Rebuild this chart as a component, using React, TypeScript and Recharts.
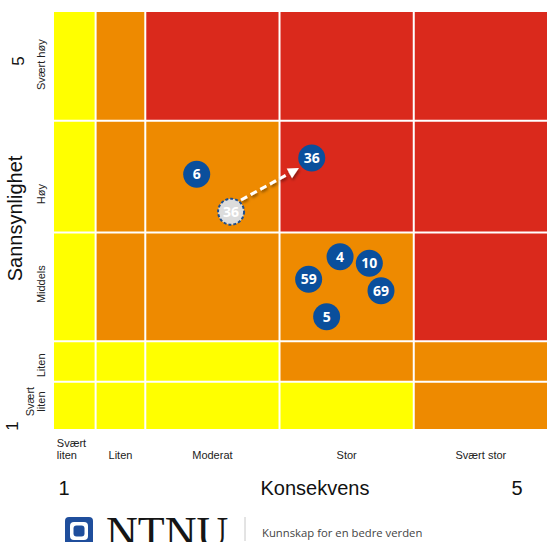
import { ScatterChart, Scatter, XAxis, YAxis, ReferenceArea, ReferenceLine } from 'recharts'

// cell edges along each axis (consequence / likelihood), in axis units
const colEdges = [0, 0.31, 0.68, 1.68, 2.68, 3.68]
const rowEdges = [0, 0.43, 0.8, 1.79, 2.81, 3.8]

// risk level per cell, rows bottom -> top, columns left -> right
const riskLevels = [
    ['low', 'low', 'low', 'low', 'mid'],
    ['low', 'low', 'low', 'mid', 'mid'],
    ['low', 'mid', 'mid', 'mid', 'high'],
    ['low', 'mid', 'mid', 'high', 'high'],
    ['low', 'mid', 'high', 'high', 'high'],
]
const levelColors: Record<string, string> = { low: '#FFFF00', mid: '#EE8A00', high: '#DA291C' }

const xLabels = ['Svært\nliten', 'Liten', 'Moderat', 'Stor', 'Svært stor']
const yLabels = ['Svært\nliten', 'Liten', 'Middels', 'Høy', 'Svært høy']
const yLabelPos = [0.25, 0.58, 1.32, 2.14, 3.32]

const risks = [
    { id: '6', x: 1.063, y: 2.321 },
    { id: '36', x: 1.92, y: 2.469 },
    { id: '4', x: 2.131, y: 1.57 },
    { id: '10', x: 2.349, y: 1.51 },
    { id: '59', x: 1.897, y: 1.364 },
    { id: '69', x: 2.436, y: 1.26 },
    { id: '5', x: 2.031, y: 1.023 },
]
const movedFrom = [{ id: '36', x: 1.319, y: 1.98 }]
const moveArrow = [{ x: 1.393, y: 2.087 }, { x: 1.825, y: 2.378 }]

const xTicks = colEdges.slice(0, -1).map((e, i) => (e + colEdges[i + 1]) / 2)

const FONT = '"Liberation Sans", Arial, sans-serif'
const BLUE = '#0A4F9C'

const cells = riskLevels.flatMap((row, r) =>
    row.map((lvl, c) => ({
        x1: colEdges[c], x2: colEdges[c + 1],
        y1: rowEdges[r], y2: rowEdges[r + 1],
        fill: levelColors[lvl],
    }))
)

const XTick = (props: any) => {
    const { x, y, index } = props
    const lines = xLabels[index].split('\n')
    const multi = lines.length > 1
    return (
        <g>
            {lines.map((l, i) => (
                <text key={i} x={multi ? x - 18 : x} y={y + 30 - (lines.length - 1 - i) * 12}
                    textAnchor={multi ? 'start' : 'middle'} fontSize={11} fill="#222" fontFamily={FONT}>
                    {l}
                </text>
            ))}
        </g>
    )
}

const YTick = (props: any) => {
    const { x, y, payload } = props
    const idx = yLabelPos.indexOf(payload.value)
    const lines = (yLabels[idx] ?? '').split('\n')
    return (
        <g>
            {lines.map((l, i) => {
                const bx = x - 9 - (lines.length - 1 - i) * 11
                return (
                    <text key={i} x={bx} y={y} transform={`rotate(-90 ${bx} ${y})`}
                        textAnchor="middle" fontSize={11} fill="#222" fontFamily={FONT}>
                        {l}
                    </text>
                )
            })}
        </g>
    )
}

const YTitle = (props: any) => {
    const vb = props.viewBox
    const cy = vb.y + vb.height / 2 - 2
    return (
        <g fill="#111" fontFamily={FONT}>
            <text x={22} y={cy} transform={`rotate(-90 22 ${cy})`} textAnchor="middle" fontSize={20}>Sannsynlighet</text>
            <text x={24} y={vb.y + 49} transform={`rotate(-90 24 ${vb.y + 49})`} textAnchor="middle" fontSize={17}>5</text>
            <text x={18} y={vb.y + vb.height - 3} transform={`rotate(-90 18 ${vb.y + vb.height - 3})`} textAnchor="middle" fontSize={17}>1</text>
        </g>
    )
}

const XTitle = (props: any) => {
    const vb = props.viewBox
    const by = vb.y + 66
    return (
        <g fill="#111" fontFamily={FONT} fontSize={20}>
            <text x={vb.x + 10} y={by} textAnchor="middle">1</text>
            <text x={vb.x + vb.width / 2 + 14} y={by} textAnchor="middle">Konsekvens</text>
            <text x={vb.x + vb.width - 31} y={by} textAnchor="middle">5</text>
        </g>
    )
}

const RiskBubble = (props: any) => {
    const { cx, cy, payload } = props
    return (
        <g>
            <circle cx={cx} cy={cy} r={13.5} fill={BLUE} />
            <text x={cx} y={cy} dy="0.36em" textAnchor="middle" fill="#fff" fontSize={14} fontWeight={700}
                fontFamily='"Open Sans", sans-serif'>{payload.id}</text>
        </g>
    )
}

const GhostBubble = (props: any) => {
    const { cx, cy, payload } = props
    return (
        <g>
            <circle cx={cx} cy={cy} r={13} fill="#DCDCDC" stroke="#1F4E8C" strokeWidth={2} strokeDasharray="3 2" />
            <text x={cx} y={cy} dy="0.36em" textAnchor="middle" fill="#fff" fontSize={14} fontWeight={700}
                fontFamily='"Open Sans", sans-serif'>{payload.id}</text>
        </g>
    )
}

const MoveArrow = (props: any) => {
    const { x1, y1, x2, y2 } = props
    const a = Math.atan2(y2 - y1, x2 - x1)
    const cos = Math.cos(a), sin = Math.sin(a)
    const head = 11, half = 5.5
    const bx = x2 - head * cos, by = y2 - head * sin
    const pts = `${x2},${y2} ${bx - half * sin},${by + half * cos} ${bx + half * sin},${by - half * cos}`
    return (
        <g filter="url(#arrowShadow)">
            <defs>
                <filter id="arrowShadow" x="-20%" y="-50%" width="140%" height="200%">
                    <feDropShadow dx={1} dy={2} stdDeviation={1.5} floodColor="#000" floodOpacity={0.45} />
                </filter>
            </defs>
            <line x1={x1} y1={y1} x2={bx} y2={by} stroke="#fff" strokeWidth={3} strokeDasharray="7 4" />
            <polygon points={pts} fill="#fff" />
        </g>
    )
}

const Logo = () => (
    <svg width={547} height={542} style={{ position: 'absolute', left: 0, top: 0, pointerEvents: 'none' }}>
        <rect x={65} y={517} width={28} height={30} rx={4} fill="#1F4E9C" />
        <rect x={70} y={522} width={18} height={18} rx={4} fill="#fff" />
        <rect x={73.5} y={525.5} width={11} height={11} rx={3} fill="#1F4E9C" />
        <text x={106} y={547} fontSize={44} fontFamily='"Liberation Serif", serif' fill="#151515">NTNU</text>
        <line x1={245} y1={517} x2={245} y2={541} stroke="#c8c8c8" strokeWidth={1} />
        <text x={262} y={537} fontSize={11.3} fontFamily='"Open Sans", sans-serif' fill="#444">Kunnskap for en bedre verden</text>
    </svg>
)

export default function App() {
    return (
        <div style={{ position: 'absolute', left: 0, top: 0, width: 547, height: 542, overflow: 'hidden', background: '#fff' }}>
            <ScatterChart width={548} height={542} margin={{ top: 12, right: 0, bottom: 0, left: 0 }}>
                <XAxis type="number" dataKey="x" domain={[0, 3.68]} ticks={xTicks} interval={0}
                    tick={XTick} tickLine={false} axisLine={false} tickSize={0} tickMargin={0}
                    height={113} allowDataOverflow label={{ content: XTitle }} />
                <YAxis type="number" dataKey="y" domain={[0, 3.8]} ticks={yLabelPos} interval={0}
                    tick={YTick} tickLine={false} axisLine={false} tickSize={0} tickMargin={0}
                    width={54} allowDataOverflow label={{ content: YTitle }} />
                {cells.map((c, i) => (
                    <ReferenceArea key={`cell-${i}`} x1={c.x1} x2={c.x2} y1={c.y1} y2={c.y2}
                        fill={c.fill} fillOpacity={1} stroke="none" ifOverflow="visible" />
                ))}
                {colEdges.slice(1, -1).map((e) => (
                    <ReferenceLine key={`vx-${e}`} x={e} stroke="#fff" strokeWidth={2} />
                ))}
                {rowEdges.slice(1, -1).map((e) => (
                    <ReferenceLine key={`hy-${e}`} y={e} stroke="#fff" strokeWidth={2} />
                ))}
                <ReferenceLine segment={moveArrow} shape={MoveArrow} ifOverflow="visible" />
                <Scatter data={movedFrom} shape={GhostBubble} isAnimationActive={false} />
                <Scatter data={risks} shape={RiskBubble} isAnimationActive={false} />
            </ScatterChart>
            <Logo />
        </div>
    )
}
